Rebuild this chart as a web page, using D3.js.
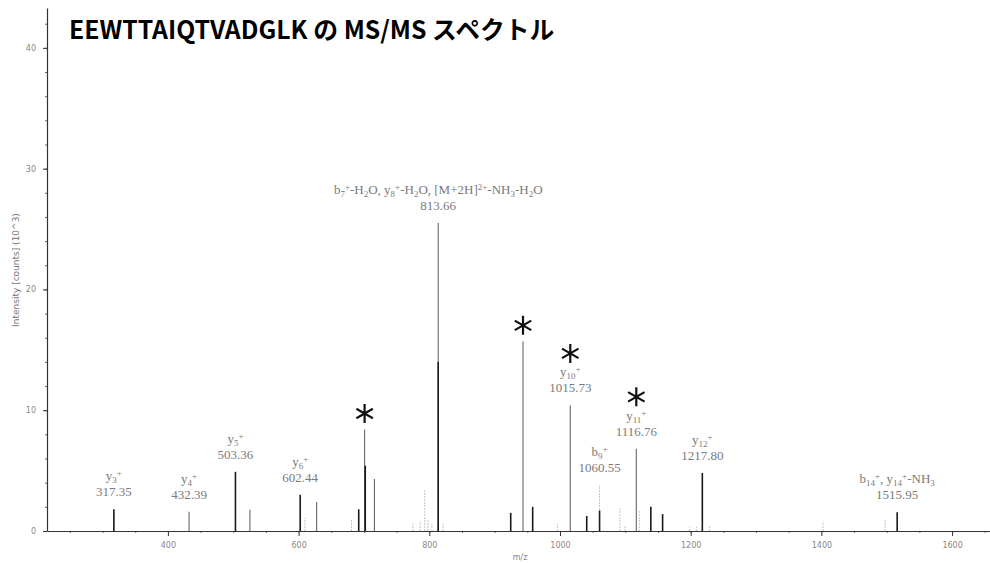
<!DOCTYPE html>
<html>
<head>
<meta charset="utf-8">
<script src="https://cdn.jsdelivr.net/npm/d3@7"></script>
<style>
  html, body { margin: 0; padding: 0; background: #fff; }
  svg { display: block; }
</style>
</head>
<body>
<svg id="chart" width="990" height="563"></svg>
<script>
// ---- Spectrum data (m/z, intensity in 10^3 counts) ----
// Strong fragment peaks
const strongMz        = [317.35, 503.36, 602.44, 692.0, 702.0, 813.66, 924.6, 958.2, 1040.9, 1060.55, 1139.0, 1157.0, 1217.80, 1515.95];
const strongIntensity = [1.8,    4.9,    3.0,    1.8,   5.4,   14.0,   1.5,   2.0,   1.25,   1.7,     2.0,    1.4,    4.8,     1.55];
// Medium peaks
const mediumMz        = [432.39, 525.5, 627.6, 701.0, 716.0, 813.66, 943.4, 1015.73, 1116.76];
const mediumIntensity = [1.6,    1.75,  2.4,   8.4,   4.3,   25.5,   15.7,  10.4,    6.8];
// Weak peaks
const weakMz          = [609.7, 681.0, 775.0, 786.0, 793.0, 798.0, 804.0, 821.0, 996.0, 1060.55, 1091.6, 1099.5, 1121.4, 1198.0, 1209.0, 1228.6, 1402.6, 1497.5];
const weakIntensity   = [1.1,   1.0,   0.7,   0.8,   3.4,   1.0,   0.6,   0.6,   0.6,   3.8,     2.0,    0.5,    1.7,    0.3,    0.35,   0.5,    0.8,    0.9];

// Annotated ions
const labelMz  = [317.35, 432.39, 503.36, 602.44, 813.66, 1015.73, 1060.55, 1116.76, 1217.80, 1515.95];
const labelIon = [
  "y_{3}^{+}", "y_{4}^{+}", "y_{5}^{+}", "y_{6}^{+}",
  "b_{7}^{+}-H_{2}O, y_{8}^{+}-H_{2}O, [M+2H]^{2+}-NH_{3}-H_{2}O",
  "y_{10}^{+}", "b_{9}^{+}", "y_{11}^{+}", "y_{12}^{+}",
  "b_{14}^{+}, y_{14}^{+}-NH_{3}"
];
// Peaks marked with an asterisk
const starMz = [701.0, 943.4, 1015.73, 1116.76];

// Axis ticks
const xTicks = [400, 600, 800, 1000, 1200, 1400, 1600];
const yTicks = [0, 10, 20, 30, 40];

const titleText = "EEWTTAIQTVADGLK の MS/MS スペクトル";
const xLabel = "m/z";
const yLabel = "Intensity [counts] (10^3)";

// ---- Layout ----
const svg = d3.select("#chart");
const x = d3.scaleLinear().domain([215, 1658]).range([47, 990]);
const y = d3.scaleLinear().domain([0, 43.3]).range([531, 8]);

const axisColor = "#333";
const tickText = "#888";

// Minor ticks
svg.append("g")
  .attr("transform", `translate(0,${y(0)})`)
  .call(d3.axisBottom(x).tickValues(d3.range(250, 1651, 50)).tickSize(2).tickFormat(""))
  .call(g => g.select(".domain").remove())
  .call(g => g.selectAll("line").attr("stroke", "#666"));
svg.append("g")
  .attr("transform", `translate(${x(215)},0)`)
  .call(d3.axisLeft(y).tickValues(d3.range(2, 43, 2)).tickSize(2).tickFormat(""))
  .call(g => g.select(".domain").remove())
  .call(g => g.selectAll("line").attr("stroke", "#666"));

// Major axes
const xAxis = svg.append("g")
  .attr("transform", `translate(0,${y(0)})`)
  .call(d3.axisBottom(x).tickValues(xTicks).tickFormat(d3.format("d"))
    .tickSize(5).tickSizeOuter(0).tickPadding(6));
const yAxis = svg.append("g")
  .attr("transform", `translate(${x(215)},0)`)
  .call(d3.axisLeft(y).tickValues(yTicks).tickFormat(d3.format("d"))
    .tickSize(4).tickSizeOuter(0).tickPadding(7));
[xAxis, yAxis].forEach(g => {
  g.select(".domain").attr("stroke", axisColor).attr("stroke-width", 1.2);
  g.selectAll(".tick line").attr("stroke", axisColor);
  g.selectAll(".tick text")
    .attr("fill", tickText)
    .style("font-family", "'DejaVu Sans', sans-serif")
    .style("font-size", "8px");
});

// Axis titles
svg.append("text")
  .attr("x", x(1000) - 40).attr("y", 560)
  .attr("text-anchor", "middle")
  .attr("fill", tickText)
  .style("font-family", "'DejaVu Sans', sans-serif")
  .style("font-size", "8px")
  .text(xLabel);
svg.append("text")
  .attr("transform", `translate(19,270) rotate(-90)`)
  .attr("text-anchor", "middle")
  .attr("fill", "#777")
  .style("font-family", "'DejaVu Sans', sans-serif")
  .style("font-size", "9px")
  .text(yLabel);

// ---- Peaks ----
function drawPeaks(mz, inten, color, width, dash) {
  svg.append("g").selectAll("line")
    .data(d3.zip(mz, inten))
    .join("line")
    .attr("x1", d => x(d[0])).attr("x2", d => x(d[0]))
    .attr("y1", y(0)).attr("y2", d => y(d[1]))
    .attr("stroke", color)
    .attr("stroke-width", width)
    .attr("stroke-dasharray", dash);
}
drawPeaks(weakMz, weakIntensity, "#c4c4c4", 1, "2,1");
drawPeaks(mediumMz, mediumIntensity, "#666", 1.1, null);
drawPeaks(strongMz, strongIntensity, "#1a1a1a", 1.6, null);

// Tallest intensity at a given m/z
const allPeaks = d3.zip(strongMz.concat(mediumMz, weakMz), strongIntensity.concat(mediumIntensity, weakIntensity));
const topAt = m => d3.max(allPeaks.filter(p => Math.abs(p[0] - m) < 0.01), p => p[1]);

// Ion label parser: "_{...}" subscript, "^{...}" superscript
function addRich(textSel, s) {
  const re = /([_^])\{([^}]*)\}/g;
  let last = 0, m;
  const parts = [];
  while ((m = re.exec(s)) !== null) {
    if (m.index > last) parts.push({ t: s.slice(last, m.index), k: "n" });
    parts.push({ t: m[2], k: m[1] === "_" ? "sub" : "sup" });
    last = re.lastIndex;
  }
  if (last < s.length) parts.push({ t: s.slice(last), k: "n" });
  let shift = 0;
  parts.forEach(p => {
    const target = p.k === "sub" ? 3 : p.k === "sup" ? -4 : 0;
    textSel.append("tspan")
      .attr("dy", target - shift)
      .style("font-size", p.k === "n" ? "13px" : "9px")
      .text(p.t);
    shift = target;
  });
}

const labelFont = "'Liberation Serif', 'DejaVu Serif', serif";
const labels = svg.append("g")
  .attr("fill", "#7a7a7a")
  .attr("opacity", 0.999)
  .style("font-family", labelFont);
labelMz.forEach((m, i) => {
  const top = y(topAt(m));
  const numY = top - 17;
  const ionY = numY - 16;
  labels.append("text")
    .attr("x", x(m)).attr("y", numY + 4)
    .attr("text-anchor", "middle")
    .style("font-size", "13px")
    .text(m.toFixed(2));
  const t = labels.append("text")
    .attr("x", x(m)).attr("y", ionY + 4)
    .attr("text-anchor", "middle");
  addRich(t, labelIon[i]);
});

// Asterisk markers
const star = d3.symbol(d3.symbolAsterisk, 255);
starMz.forEach(m => {
  const top = y(topAt(m));
  const labelled = labelMz.some(l => Math.abs(l - m) < 0.01);
  const cy = labelled ? top - 52 : top - 16;
  svg.append("path")
    .attr("d", star())
    .attr("transform", `translate(${x(m)},${cy})`)
    .attr("fill", "none")
    .attr("stroke", "#111")
    .attr("stroke-width", 2.2);
});

// ---- Title ----
svg.append("text")
  .attr("x", 69).attr("y", 39)
  .attr("fill", "#000")
  .style("font-family", "'Noto Sans CJK JP', 'Noto Sans', sans-serif")
  .style("font-weight", "700")
  .style("font-size", "24.8px")
  .text(titleText);
</script>
</body>
</html>
